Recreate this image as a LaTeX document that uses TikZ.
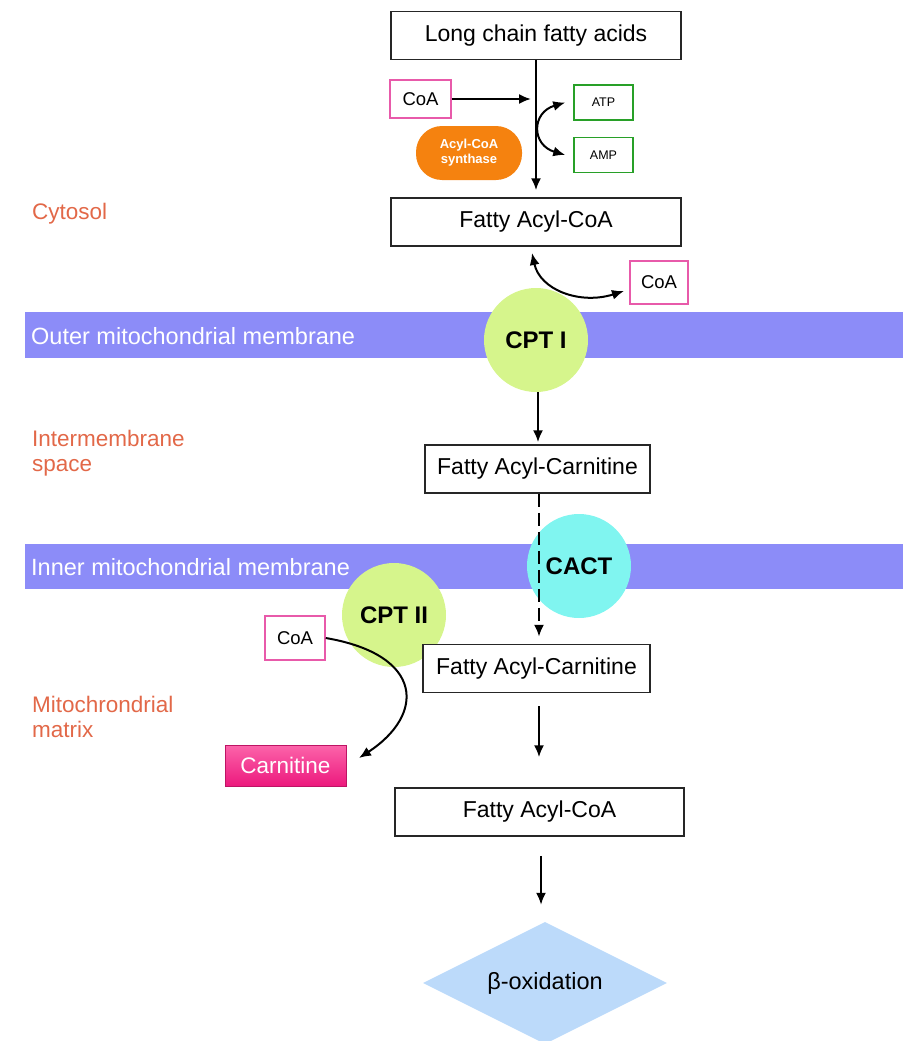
\documentclass[tikz,border=0pt]{standalone}
\usepackage{fontspec}
\setmainfont{Liberation Sans}
\usepackage{tikz}
\usetikzlibrary{%
	arrows.meta,
	shapes,
	shapes.geometric,% wg. diamond
	positioning,
	calc
}
\definecolor{regioncol}{RGB}{226,104,72}
\definecolor{bandcol}{RGB}{140,140,248}
\definecolor{cptcol}{RGB}{214,245,140}
\definecolor{cactcol}{RGB}{128,245,240}
\definecolor{coapink}{RGB}{232,90,170}
\definecolor{atpgreen}{RGB}{40,160,40}
\definecolor{synthcol}{RGB}{245,130,15}
\definecolor{carntop}{RGB}{252,100,170}
\definecolor{carnbot}{RGB}{236,25,125}
\definecolor{oxcol}{RGB}{188,218,250}
\tikzstyle{stepbox} = [rectangle, draw = black!85, line width = 1.5pt, fill = white, minimum height = 48pt, font = \fontsize{23}{26}\selectfont]
\tikzstyle{coabox} = [rectangle, draw = coapink, line width = 1.5pt, fill = white, minimum width = 60pt, minimum height = 40pt, font = \fontsize{18.5}{22}\selectfont]
\tikzstyle{atpbox} = [rectangle, draw = atpgreen, line width = 1.5pt, fill = white, minimum width = 59pt, minimum height = 35pt, font = \fontsize{12.5}{14}\selectfont]
\tikzstyle{synthase} = [rectangle, rounded corners = 26pt, fill = synthcol, text = white, align = center, minimum width = 106pt, minimum height = 54pt, font = \bfseries\fontsize{13}{15}\selectfont]
\tikzstyle{transporter} = [circle, minimum size = 104pt, inner sep = 0pt, font = \bfseries\fontsize{24}{26}\selectfont]
\tikzstyle{region} = [anchor = west, inner sep = 0pt, align = left, text = regioncol, font = \fontsize{22.5}{25}\selectfont]
\tikzstyle{bandtext} = [anchor = west, inner sep = 0pt, text = white, font = \fontsize{23.5}{26}\selectfont]
\tikzstyle{carnbox} = [rectangle, draw = carnbot!80!black, line width = 0.6pt, top color = carntop, bottom color = carnbot, text = white, minimum width = 121pt, minimum height = 41pt, font = \fontsize{22.5}{26}\selectfont]
\tikzstyle{line} = [draw, -{Latex[length = 12pt, width = 10pt]}, line width = 2pt]

\begin{document}
\begin{tikzpicture}[x=1pt, y=-1pt]
		
		\useasboundingbox (0,0) rectangle (903,1041);
		\clip (0,0) rectangle (903,1041);
		
		% First we draw the membranes
		\fill[bandcol] (25,312) rectangle (903,358);
		\fill[bandcol] (25,544) rectangle (903,589);
		\node[bandtext] (outer) at (31,336) {Outer mitochondrial membrane};
		\node[bandtext] (inner) at (31,567) {Inner mitochondrial membrane};
		
		% Compartments
		\node[region] (cytosol) at (32,214) {Cytosol};
		\node[region] (ims) at (32,453) {Intermembrane\\space};
		\node[region] (matrix) at (32,717) {Mitochrondrial\\matrix};
		
		% Transport proteins
		\node[transporter, fill = cptcol] (cpt1) at (536,340) {CPT I};
		\node[transporter, fill = cactcol] (cact) at (579,566) {CACT};
		\node[transporter, fill = cptcol] (cpt2) at (394,615) {CPT II};
		
		% Then the pathway steps
		\node[stepbox, minimum width = 290pt] (lcfa) at (536,35.5) {Long chain fatty acids};
		\node[stepbox, minimum width = 290pt] (fac1) at (536,222) {Fatty Acyl-CoA};
		\node[stepbox, minimum width = 225pt] (facn1) at (537.5,469) {Fatty Acyl-Carnitine};
		\node[stepbox, minimum width = 227pt] (facn2) at (536.5,668.5) {Fatty Acyl-Carnitine};
		\node[stepbox, minimum width = 289pt] (fac2) at (539.5,812) {Fatty Acyl-CoA};
		\node[diamond, aspect = 2, fill = oxcol, inner sep = 0pt, minimum width = 244pt, minimum height = 122pt, font = \fontsize{23.5}{26}\selectfont] (beta) at (545,983) {β-oxidation};
		
		% Cofactors
		\node[coabox, minimum width = 61pt, minimum height = 38pt] (coa1) at (420.5,99) {CoA};
		\node[atpbox] (atp) at (603.5,102.5) {ATP};
		\node[atpbox] (amp) at (603.5,155) {AMP};
		\node[synthase] (acs) at (469,153) {Acyl-CoA\\synthase};
		\node[coabox, minimum width = 58pt, minimum height = 43pt] (coa2) at (659,282.5) {CoA};
		\node[coabox, minimum width = 60pt, minimum height = 44pt] (coa3) at (295,638) {CoA};
		\node[carnbox] (carn) at (285.5,765.5) {Carnitine};
		
		\coordinate (join) at (531,99);
		\coordinate (fac1in) at (532,253);
		\coordinate (coa2in) at (624,291);
		\coordinate (carnin) at (359,758);
		
		% Connect the steps
		\path[line, shorten > = 7pt] (lcfa) -- (fac1);
		\path[line] (coa1) -- (join);
		\path[line, {Latex[length = 12pt, width = 10pt]}-{Latex[length = 12pt, width = 10pt]}] ([xshift=-8pt]atp.west) .. controls +(-34,10) and +(-34,-10) .. ([xshift=-8pt]amp.west);
		\path[line, {Latex[length = 12pt, width = 10pt]}-{Latex[length = 12pt, width = 10pt]}] (fac1in) .. controls (540,290) and (580,305) .. (coa2in);
		\path[line, shorten > = 2pt] ([xshift=2pt]cpt1.south) -- ([xshift=2pt]cpt1.south |- facn1.north);
		\path[line, dash pattern = on 13pt off 6pt, shorten > = 7pt] ([xshift=1.5pt]facn1.south) -- ([xshift=1.5pt]facn1.south |- facn2.north);
		\path[line, shorten < = 13pt, shorten > = 30pt] ([xshift=2.5pt]facn2.south) -- ([xshift=2.5pt]facn2.south |- fac2.north);
		\path[line, shorten < = 19pt, shorten > = 17pt] ([xshift=1.5pt]fac2.south) -- ([xshift=1.5pt]fac2.south |- beta.north);
		\path[line] (coa3.east) .. controls (425,655) and (425,715) .. (carnin);
		
\end{tikzpicture}
\end{document}
